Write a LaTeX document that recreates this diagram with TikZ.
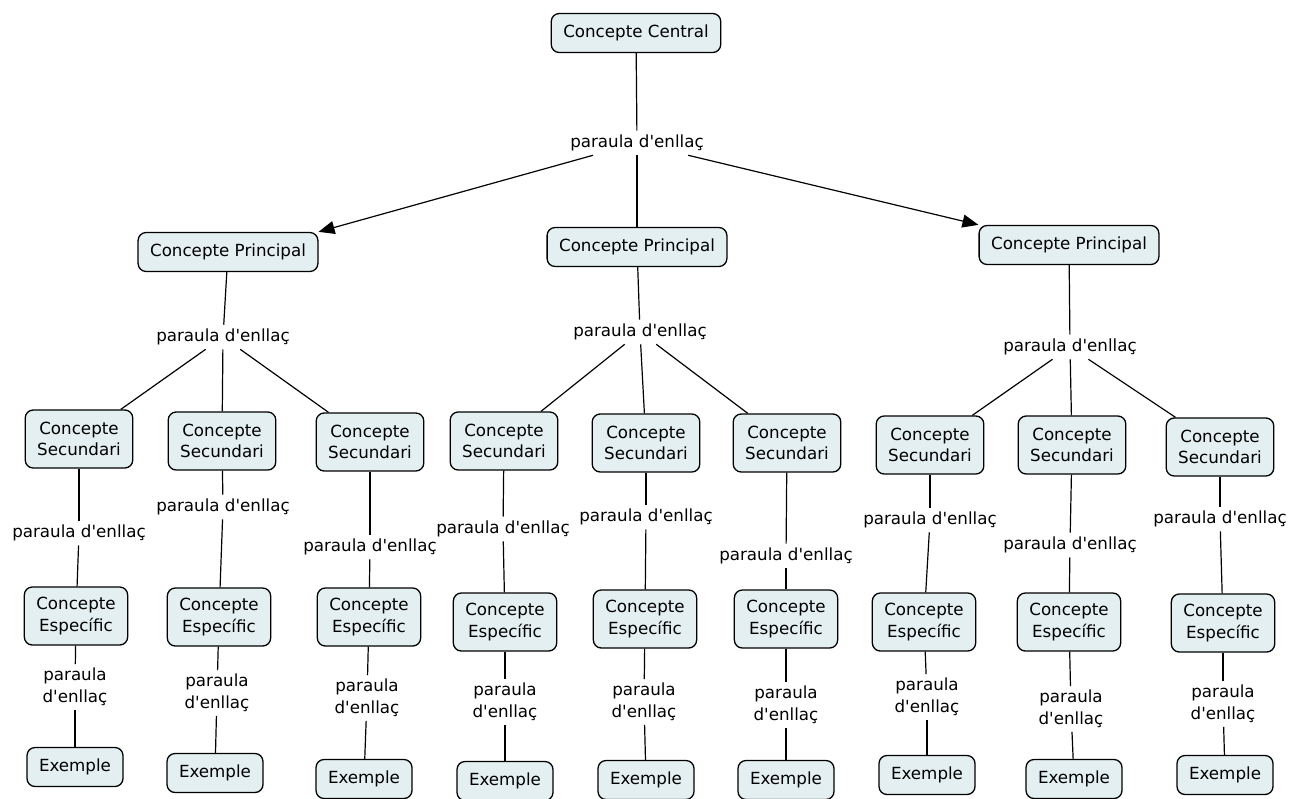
\documentclass[tikz,border=0pt]{standalone}
\usepackage{fontspec}
\setmainfont{DejaVu Sans}[Ligatures=TeXOff]
\usepackage{tikz}
\usetikzlibrary{arrows.meta}
\definecolor{conceptfill}{RGB}{227,239,240}

\begin{document}
\begin{tikzpicture}[
                x=1pt, y=-1pt,
                font=\fontsize{16.7}{21.5}\selectfont,
                concepte/.style={draw, rounded corners=8pt, fill=conceptfill, line width=1.3pt,
                                 align=center, inner xsep=12pt, minimum height=39pt}, % one line box
                concepte2/.style={concepte, minimum height=58pt}, % two line box
                enllac/.style={align=center, inner sep=4pt}, % linking words
                connector/.style={line width=1.2pt},
                fletxa/.style={connector, -{Triangle[length=16pt, width=13pt]}}
                ]
                \useasboundingbox (0,0) rectangle (1300,798);

                % central concept
                \node[concepte] (central) at (636,33) {Concepte Central};
                \node[enllac] (enllac0) at (637,143) {paraula d'enllaç};

                % main concepts
                \node[concepte] (principal1) at (228,252) {Concepte Principal};
                \node[concepte] (principal2) at (637,247) {Concepte Principal};
                \node[concepte] (principal3) at (1069,245) {Concepte Principal};

                \node[enllac] (enllac1) at (223,337) {paraula d'enllaç};
                \node[enllac] (enllac2) at (640,332) {paraula d'enllaç};
                \node[enllac] (enllac3) at (1070,347) {paraula d'enllaç};

                % secondary concepts
                \node[concepte2] (secundari1) at (79,439) {Concepte\\Secundari};
                \node[concepte2] (secundari2) at (222,441) {Concepte\\Secundari};
                \node[concepte2] (secundari3) at (370,442) {Concepte\\Secundari};
                \node[concepte2] (secundari4) at (504,441) {Concepte\\Secundari};
                \node[concepte2] (secundari5) at (646,443) {Concepte\\Secundari};
                \node[concepte2] (secundari6) at (787,443) {Concepte\\Secundari};
                \node[concepte2] (secundari7) at (930,445) {Concepte\\Secundari};
                \node[concepte2] (secundari8) at (1072,445) {Concepte\\Secundari};
                \node[concepte2] (secundari9) at (1220,447) {Concepte\\Secundari};

                \node[enllac] (enllacs1) at (79,533) {paraula d'enllaç};
                \node[enllac] (enllacs2) at (223,507) {paraula d'enllaç};
                \node[enllac] (enllacs3) at (370,547) {paraula d'enllaç};
                \node[enllac] (enllacs4) at (503,529) {paraula d'enllaç};
                \node[enllac] (enllacs5) at (646,517) {paraula d'enllaç};
                \node[enllac] (enllacs6) at (786,556) {paraula d'enllaç};
                \node[enllac] (enllacs7) at (930,520) {paraula d'enllaç};
                \node[enllac] (enllacs8) at (1070,545) {paraula d'enllaç};
                \node[enllac] (enllacs9) at (1220,519) {paraula d'enllaç};

                % specific concepts
                \node[concepte2] (especific1) at (76,616) {Concepte\\Específic};
                \node[concepte2] (especific2) at (219,617) {Concepte\\Específic};
                \node[concepte2] (especific3) at (369,617) {Concepte\\Específic};
                \node[concepte2] (especific4) at (505,622) {Concepte\\Específic};
                \node[concepte2] (especific5) at (645,619) {Concepte\\Específic};
                \node[concepte2] (especific6) at (786,619) {Concepte\\Específic};
                \node[concepte2] (especific7) at (924,622) {Concepte\\Específic};
                \node[concepte2] (especific8) at (1069,622) {Concepte\\Específic};
                \node[concepte2] (especific9) at (1223,623) {Concepte\\Específic};

                \node[enllac] (enllace1) at (75,687) {paraula\\d'enllaç};
                \node[enllac] (enllace2) at (217,693) {paraula\\d'enllaç};
                \node[enllac] (enllace3) at (367,698) {paraula\\d'enllaç};
                \node[enllac] (enllace4) at (505,702) {paraula\\d'enllaç};
                \node[enllac] (enllace5) at (644,702) {paraula\\d'enllaç};
                \node[enllac] (enllace6) at (786,705) {paraula\\d'enllaç};
                \node[enllac] (enllace7) at (927,697) {paraula\\d'enllaç};
                \node[enllac] (enllace8) at (1071,709) {paraula\\d'enllaç};
                \node[enllac] (enllace9) at (1223,704) {paraula\\d'enllaç};

                % examples
                \node[concepte] (exemple1) at (75,767) {Exemple};
                \node[concepte] (exemple2) at (215,773) {Exemple};
                \node[concepte] (exemple3) at (364,779) {Exemple};
                \node[concepte] (exemple4) at (505,781) {Exemple};
                \node[concepte] (exemple5) at (646,780) {Exemple};
                \node[concepte] (exemple6) at (786,780) {Exemple};
                \node[concepte] (exemple7) at (927,775) {Exemple};
                \node[concepte] (exemple8) at (1074,779) {Exemple};
                \node[concepte] (exemple9) at (1225,775) {Exemple};

                % connectors
                \draw[connector] (central) -- (enllac0);
                \draw[fletxa] (enllac0) -- (principal1.north east);
                \draw[connector] (enllac0) -- (principal2);
                \draw[fletxa] (enllac0) -- (principal3.north west);

                \foreach \p/\a/\b/\c in {1/1/2/3, 2/4/5/6, 3/7/8/9} {
                    \draw[connector] (principal\p) -- (enllac\p);
                    \draw[connector] (enllac\p) -- (secundari\a);
                    \draw[connector] (enllac\p) -- (secundari\b);
                    \draw[connector] (enllac\p) -- (secundari\c);
                }

                \foreach \i in {1,...,9} {
                    \draw[connector] (secundari\i) -- (enllacs\i);
                    \draw[connector] (enllacs\i) -- (especific\i);
                    \draw[connector] (especific\i) -- (enllace\i);
                    \draw[connector] (enllace\i) -- (exemple\i);
                }
            \end{tikzpicture}
\end{document}
